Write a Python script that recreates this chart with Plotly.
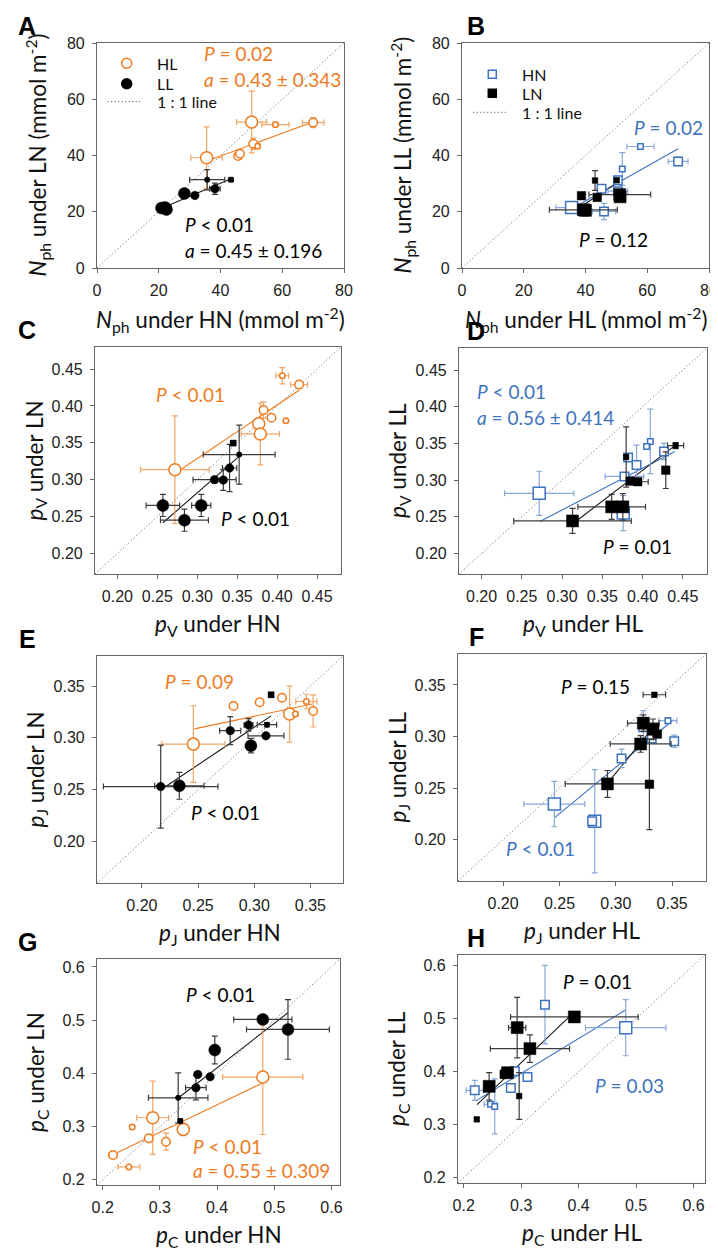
import plotly.graph_objects as go

# each point: (x, y, x error, y error, size class)
A_HL = [(35.5, 39.2, 5.1, 11.0, 'L'), (50.1, 51.9, 4.9, 11.0, 'L'), (57.8, 51.0, 4.4, 0.8, 'S'),
        (70.0, 51.7, 3.5, 1.8, 'M'), (50.6, 44.2, 1.0, 2.0, 'M'), (52.0, 43.3, 0.8, 0.8, 'S'),
        (45.7, 39.8, 1.0, 1.0, 'M'), (46.3, 40.6, 0.8, 0.8, 'M')]
A_LL = [(35.7, 31.4, 5.7, 3.6, 'S'), (43.4, 31.4, 0.6, 0.6, 'S'), (38.2, 28.2, 1.7, 2.0, 'M'),
        (28.3, 26.5, 1.0, 1.0, 'L'), (31.7, 25.8, 0.8, 0.8, 'M'), (22.0, 21.5, 2.0, 1.0, 'L'),
        (20.9, 21.3, 1.0, 0.8, 'L'), (22.5, 20.8, 1.0, 0.8, 'L')]
B_HN = [(57.8, 43.2, 4.4, 0.8, 'S'), (70.0, 37.9, 3.2, 1.5, 'M'), (51.9, 35.2, 0.8, 5.8, 'S'),
        (50.5, 31.2, 0.8, 0.8, 'M'), (45.2, 28.2, 1.0, 1.0, 'M'), (50.5, 27.3, 3.2, 1.0, 'M'),
        (35.5, 21.5, 5.1, 1.0, 'L'), (46.0, 20.1, 3.8, 2.9, 'M')]
B_LN = [(43.1, 31.1, 0.6, 3.5, 'S'), (50.1, 31.2, 0.6, 0.6, 'S'), (38.7, 25.7, 0.8, 0.8, 'M'),
        (43.8, 25.1, 0.8, 0.8, 'M'), (51.1, 26.1, 10.0, 1.0, 'L'), (39.3, 20.7, 11.0, 1.0, 'L'),
        (40.0, 20.5, 1.0, 2.0, 'L'), (51.2, 25.3, 1.0, 1.0, 'L')]
C_HL = [(0.4065, 0.441, 0.008, 0.011, 'S'), (0.4275, 0.429, 0.0105, 0.005, 'M'),
        (0.383, 0.3946, 0.004, 0.011, 'M'), (0.393, 0.384, 0.003, 0.003, 'M'),
        (0.411, 0.380, 0.002, 0.002, 'S'), (0.377, 0.376, 0.003, 0.003, 'L'),
        (0.379, 0.362, 0.024, 0.042, 'L'), (0.272, 0.3135, 0.043, 0.073, 'L')]
C_LL = [(0.345, 0.3496, 0.003, 0.003, 'sq'), (0.3525, 0.334, 0.045, 0.04, 'S'),
        (0.3405, 0.3158, 0.009, 0.032, 'M'), (0.3217, 0.300, 0.027, 0.004, 'M'),
        (0.3326, 0.2996, 0.004, 0.014, 'M'), (0.257, 0.265, 0.021, 0.015, 'L'),
        (0.305, 0.265, 0.012, 0.015, 'L'), (0.284, 0.245, 0.030, 0.015, 'L')]
D_HN = [(0.4096, 0.3527, 0.003, 0.044, 'S'), (0.405, 0.3456, 0.003, 0.003, 'S'),
        (0.4266, 0.339, 0.004, 0.011, 'M'), (0.382, 0.3306, 0.003, 0.003, 'M'),
        (0.3925, 0.3206, 0.003, 0.027, 'M'), (0.3775, 0.305, 0.024, 0.004, 'M'),
        (0.376, 0.255, 0.003, 0.024, 'L'), (0.2716, 0.282, 0.043, 0.030, 'L')]
D_LN = [(0.441, 0.347, 0.010, 0.004, 'S'), (0.3796, 0.3315, 0.002, 0.041, 'S'),
        (0.4288, 0.3135, 0.003, 0.025, 'M'), (0.3846, 0.2986, 0.003, 0.003, 'M'),
        (0.394, 0.2977, 0.013, 0.004, 'M'), (0.3616, 0.2635, 0.042, 0.017, 'L'),
        (0.3755, 0.2635, 0.003, 0.018, 'L'), (0.313, 0.2443, 0.073, 0.017, 'L')]
E_HL = [(0.2815, 0.3308, 0.003, 0.002, 'M'), (0.3048, 0.3343, 0.002, 0.002, 'M'),
        (0.3247, 0.3387, 0.002, 0.002, 'M'), (0.3464, 0.3351, 0.0094, 0.007, 'S'),
        (0.3524, 0.326, 0.003, 0.0155, 'M'), (0.3315, 0.323, 0.003, 0.027, 'L'),
        (0.3366, 0.323, 0.002, 0.002, 'S'), (0.2458, 0.294, 0.028, 0.037, 'L')]
E_LL = [(0.315, 0.3416, 0.002, 0.002, 'sq'), (0.2786, 0.307, 0.0094, 0.0135, 'M'),
        (0.2949, 0.3125, 0.004, 0.006, 'M'), (0.3113, 0.3127, 0.0086, 0.002, 'S'),
        (0.3104, 0.302, 0.016, 0.002, 'M'), (0.297, 0.2925, 0.003, 0.007, 'L'),
        (0.2167, 0.253, 0.051, 0.040, 'M'), (0.2333, 0.2538, 0.022, 0.013, 'L')]
F_HN = [(0.3462, 0.3154, 0.008, 0.003, 'S'), (0.3244, 0.3091, 0.003, 0.016, 'M'),
        (0.3319, 0.298, 0.003, 0.003, 'M'), (0.3518, 0.2954, 0.003, 0.006, 'M'),
        (0.3051, 0.2788, 0.003, 0.009, 'M'), (0.2455, 0.2346, 0.027, 0.022, 'L'),
        (0.2813, 0.2179, 0.003, 0.050, 'L'), (0.279, 0.2179, 0.002, 0.002, 'M')]
F_LL = [(0.3342, 0.3405, 0.010, 0.002, 'S'), (0.3244, 0.313, 0.014, 0.008, 'L'),
        (0.333, 0.307, 0.003, 0.010, 'L'), (0.3369, 0.3024, 0.002, 0.002, 'M'),
        (0.322, 0.2928, 0.027, 0.008, 'L'), (0.2926, 0.2541, 0.0375, 0.013, 'L'),
        (0.3298, 0.2538, 0.003, 0.044, 'M'), (0.3255, 0.3115, 0.003, 0.003, 'M')]
G_HL = [(0.48, 0.393, 0.07, 0.108, 'L'), (0.2875, 0.3165, 0.028, 0.069, 'L'),
        (0.3409, 0.2946, 0.004, 0.012, 'L'), (0.2516, 0.299, 0.002, 0.002, 'S'),
        (0.2805, 0.2777, 0.004, 0.004, 'M'), (0.3107, 0.2714, 0.003, 0.016, 'M'),
        (0.218, 0.2464, 0.007, 0.004, 'M'), (0.2457, 0.2239, 0.019, 0.002, 'S')]
G_LL = [(0.48, 0.5013, 0.051, 0.004, 'L'), (0.524, 0.4825, 0.0725, 0.056, 'L'),
        (0.396, 0.4438, 0.004, 0.026, 'L'), (0.3663, 0.398, 0.004, 0.004, 'M'),
        (0.3878, 0.3936, 0.004, 0.004, 'M'), (0.363, 0.373, 0.018, 0.023, 'M'),
        (0.332, 0.354, 0.052, 0.047, 'S'), (0.3357, 0.3103, 0.003, 0.004, 'S')]
H_HN = [(0.3414, 0.5264, 0.003, 0.074, 'M'), (0.482, 0.483, 0.070, 0.053, 'L'),
        (0.289, 0.4006, 0.003, 0.003, 'M'), (0.311, 0.39, 0.003, 0.006, 'M'),
        (0.282, 0.3692, 0.003, 0.008, 'M'), (0.2192, 0.3647, 0.015, 0.019, 'M'),
        (0.2466, 0.3383, 0.011, 0.003, 'S'), (0.254, 0.3345, 0.003, 0.052, 'S')]
H_LN = [(0.3925, 0.5032, 0.111, 0.004, 'L'), (0.293, 0.483, 0.015, 0.057, 'L'),
        (0.3152, 0.4434, 0.069, 0.026, 'L'), (0.2762, 0.398, 0.003, 0.004, 'L'),
        (0.2704, 0.395, 0.003, 0.003, 'M'), (0.2442, 0.3723, 0.003, 0.026, 'L'),
        (0.2965, 0.354, 0.003, 0.044, 'S'), (0.2227, 0.31, 0.003, 0.003, 'S')]

# fitted lines: ([x0, x1], [y0, y1])
A_FIT = {'c': ([36.0, 70.2], [38.2, 52.0]), 'k': ([19.8, 43.6], [20.7, 31.8])}
B_FIT = {'c': ([36.0, 70.0], [21.3, 42.4]), 'k': ([36.0, 51.1], [20.1, 30.8])}
C_FIT = {'c': ([0.279, 0.428], [0.3135, 0.4216]), 'k': ([0.257, 0.356], [0.2415, 0.3349])}
D_FIT = {'c': ([0.2725, 0.44], [0.2436, 0.339]), 'k': ([0.317, 0.441], [0.2436, 0.3476])}
E_FIT = {'c': ([0.2467, 0.3515], [0.3087, 0.3327]), 'k': ([0.2205, 0.315], [0.2526, 0.3212])}
F_FIT = {'c': ([0.2455, 0.3512], [0.2212, 0.3163]), 'k': ([0.2938, 0.3348], [0.2564, 0.311])}
G_FIT = {'c': ([0.2169, 0.48], [0.2464, 0.382]), 'k': ([0.3327, 0.524], [0.354, 0.514])}
H_FIT = {'c': ([0.2222, 0.481], [0.3458, 0.5157]), 'k': ([0.2232, 0.3908], [0.3377, 0.5108])}

TICKS_N = [0, 20, 40, 60, 80]
TICKS_V = [0.20, 0.25, 0.30, 0.35, 0.40, 0.45]
TICKS_J = [0.20, 0.25, 0.30, 0.35]
TICKS_C = [0.2, 0.3, 0.4, 0.5, 0.6]

# the page body adds an 8px margin, so the figure is drawn 8px smaller and
# all pixel positions below (taken from the 718x1250 picture) are shifted by it
OFF = 8
W, H = 718 - OFF, 1250 - OFF
ORANGE, ORANGE_E = '#EF7B1F', '#F3A566'
BLUE, BLUE_E = '#3E73C0', '#88A9D8'
BLACK, BLACK_E = '#000000', '#3c3c3c'
DOTS = '1px,2.5px'
SIZE = {'S': 5.5, 'M': 8.5, 'L': 12, 'sq': 6}
TXT = 'Lato'
NUM = 'Liberation Sans'


def px(v):
    return (v - OFF) / W


def py(v):
    return 1 - (v - OFF) / H


def nph(s):
    return '<i>N</i><sub>ph</sub> under %s (mmol m<sup>-2</sup>)' % s


def pp(v, s):
    return '<i>p</i><sub>%s</sub> under %s' % (v, s)


# panel: letter, frame (left, top, right, bottom px), range, ticks, fmt,
# series, fits, x title, y title, texts
panels = [
    dict(k='A', fr=(97, 43, 344, 268), rg=[0, 80], tk=TICKS_N, fmt='d',
         s=[('HL', A_HL, 'o'), ('LL', A_LL, 'k')], fit=A_FIT, xt=nph('HN'), yt=nph('LN'),
         txt=[(34.0, 76.1, '<i>P</i> = 0.02', ORANGE), (34.0, 67.1, '<i>a</i> = 0.43 ± 0.343', ORANGE),
              (27.8, 15.4, '<i>P</i> < 0.01', BLACK), (27.8, 6.4, '<i>a</i> = 0.45 ± 0.196', BLACK)]),
    dict(k='B', fr=(462, 43, 709, 268), rg=[0, 80], tk=TICKS_N, fmt='d',
         s=[('HN', B_HN, 'b'), ('LN', B_LN, 'k')], fit=B_FIT, xt=nph('HL'), yt=nph('LL'),
         txt=[(54.9, 49.9, '<i>P</i> = 0.02', BLUE), (37.1, 10.0, '<i>P</i> = 0.12', BLACK)]),
    dict(k='C', fr=(95, 347, 341, 574), rg=[0.172, 0.48], tk=TICKS_V, fmt='.2f',
         s=[('HL', C_HL, 'o'), ('LL', C_LL, 'k')], fit=C_FIT, xt=pp('V', 'HN'), yt=pp('V', 'LN'),
         txt=[(0.2456, 0.415, '<i>P</i> < 0.01', ORANGE), (0.3275, 0.247, '<i>P</i> < 0.01', BLACK)]),
    dict(k='D', fr=(459, 348, 707, 574), rg=[0.172, 0.48], tk=TICKS_V, fmt='.2f',
         s=[('HN', D_HN, 'b'), ('LN', D_LN, 'k')], fit=D_FIT, xt=pp('V', 'HL'), yt=pp('V', 'LL'),
         txt=[(0.192, 0.4207, '<i>P</i> < 0.01', BLUE), (0.192, 0.3847, '<i>a</i> = 0.56 ± 0.414', BLUE),
              (0.3484, 0.2095, '<i>P</i> = 0.01', BLACK)]),
    dict(k='E', fr=(97, 656, 343, 883), rg=[0.16, 0.379], tk=TICKS_J, fmt='.2f',
         s=[('HL', E_HL, 'o'), ('LL', E_LL, 'k')], fit=E_FIT, xt=pp('J', 'HN'), yt=pp('J', 'LN'),
         txt=[(0.2188, 0.3541, '<i>P</i> = 0.09', ORANGE), (0.242, 0.2279, '<i>P</i> < 0.01', BLACK)]),
    dict(k='F', fr=(458, 654, 706, 881), rg=[0.16, 0.38], tk=TICKS_J, fmt='.2f',
         s=[('HN', F_HN, 'b'), ('LN', F_LL, 'k')], fit=F_FIT, xt=pp('J', 'HL'), yt=pp('J', 'LL'),
         txt=[(0.25, 0.3484, '<i>P</i> = 0.15', BLACK), (0.2009, 0.1913, '<i>P</i> < 0.01', BLUE)]),
    dict(k='G', fr=(97, 959, 340, 1185), rg=[0.19, 0.615], tk=TICKS_C, fmt='.1f',
         s=[('HL', G_HL, 'o'), ('LL', G_LL, 'k')], fit=G_FIT, xt=pp('C', 'HN'), yt=pp('C', 'LN'),
         txt=[(0.3426, 0.5483, '<i>P</i> < 0.01', BLACK), (0.3543, 0.2633, '<i>P</i> < 0.01', ORANGE),
              (0.3543, 0.2164, '<i>a</i> = 0.55 ± 0.309', ORANGE)]),
    dict(k='H', fr=(458, 955, 705, 1183), rg=[0.19, 0.62], tk=TICKS_C, fmt='.1f',
         s=[('HN', H_HN, 'b'), ('LN', H_LN, 'k')], fit=H_FIT, xt=pp('C', 'HL'), yt=pp('C', 'LL'),
         txt=[(0.3693, 0.5704, '<i>P</i> = 0.01', BLACK), (0.4257, 0.3742, '<i>P</i> = 0.03', BLUE)]),
]

STYLE = {
    'o': dict(sym='circle', fill='white', line=ORANGE, err=ORANGE_E),
    'b': dict(sym='square', fill='white', line=BLUE, err=BLUE_E),
    'k': dict(sym=None, fill=BLACK, line=BLACK, err=BLACK_E),
}
FITCOL = {'o': ORANGE, 'b': BLUE}

fig = go.Figure()
annots = []
shapes = []
layout = {}

for i, p in enumerate(panels):
    n = '' if i == 0 else str(i + 1)
    xa, ya = 'x' + n, 'y' + n
    L, T, R, B = p['fr']
    ckind = p['s'][0][2]

    # 1:1 line
    fig.add_trace(go.Scatter(x=p['rg'], y=p['rg'], mode='lines', name='1 : 1 line',
                             line=dict(color='#606060', width=1, dash=DOTS),
                             xaxis=xa, yaxis=ya, showlegend=False))
    # fitted lines
    fx, fy = p['fit']['c']
    fig.add_trace(go.Scatter(x=fx, y=fy, mode='lines', line=dict(color=FITCOL[ckind], width=1.1),
                             xaxis=xa, yaxis=ya, showlegend=False))
    fx, fy = p['fit']['k']
    fig.add_trace(go.Scatter(x=fx, y=fy, mode='lines', line=dict(color='#1a1a1a', width=1.1),
                             xaxis=xa, yaxis=ya, showlegend=False))

    for name, pts, kind in p['s']:
        st = STYLE[kind]
        base = st['sym'] or ('square' if ckind == 'b' else 'circle')
        syms = ['square' if q[4] == 'sq' else base for q in pts]
        fig.add_trace(go.Scatter(
            x=[q[0] for q in pts], y=[q[1] for q in pts], mode='markers', name=name,
            error_x=dict(type='data', array=[q[2] for q in pts], color=st['err'], thickness=1.2, width=3),
            error_y=dict(type='data', array=[q[3] for q in pts], color=st['err'], thickness=1.2, width=3),
            marker=dict(size=[SIZE[q[4]] for q in pts], symbol=syms, color=st['fill'], opacity=1,
                        line=dict(color=st['line'], width=1.5 if st['fill'] == 'white' else 0.5)),
            xaxis=xa, yaxis=ya, showlegend=False))

    ax = dict(range=p['rg'], tickvals=p['tk'], tickformat=p['fmt'],
              showline=True, mirror=True, linecolor='#666666', linewidth=1.2, automargin=False,
              ticks='outside', ticklen=4, tickcolor='#666666', showgrid=False, zeroline=False,
              tickfont=dict(family=NUM, size=16, color='#222222'), ticklabelstandoff=4)
    layout['xaxis' + n] = dict(ax, domain=[px(L), px(R)], anchor=ya)
    layout['yaxis' + n] = dict(ax, domain=[py(B), py(T)], anchor=xa)

    for tx, ty, t, c in p['txt']:
        annots.append(dict(x=tx, y=ty, xref=xa, yref=ya, text=t, showarrow=False,
                           xanchor='left', yanchor='middle', font=dict(family=TXT, size=19, color=c)))
    # axis titles
    annots.append(dict(x=px((L + R) / 2), y=py(B + 51), xref='paper', yref='paper', text=p['xt'],
                       xanchor='center', yanchor='middle', showarrow=False,
                       font=dict(family=TXT, size=22.5, color='#111111')))
    annots.append(dict(x=px(L - 60), y=py((T + B) / 2), xref='paper', yref='paper', text=p['yt'],
                       xanchor='center', yanchor='middle', textangle=-90, showarrow=False,
                       font=dict(family=TXT, size=22.5, color='#111111')))
    # panel letter
    lx = 27 if L < 200 else 476
    annots.append(dict(x=px(lx), y=py(T - 17), xref='paper', yref='paper', text='<b>%s</b>' % p['k'],
                       xanchor='center', yanchor='middle', showarrow=False,
                       font=dict(family=NUM, size=25, color='#000000')))

# legend keys of panels A and B (symbol centre x, text x, row y's)
LEGENDS = [
    (126.7, 155, (63.3, 83.7, 101.7), ('HL', 'LL'), 'circle', ORANGE),
    (492.3, 520, (74.3, 93.3, 112.3), ('HN', 'LN'), 'rect', BLUE),
]
for cx, tx, rows, names, kind, col in LEGENDS:
    r = 5 if kind == 'circle' else 4
    for yy, fill, line in ((rows[0], 'white', col), (rows[1], BLACK, BLACK)):
        shapes.append(dict(type=kind, xref='paper', yref='paper',
                           x0=px(cx - r), x1=px(cx + r), y0=py(yy + r), y1=py(yy - r),
                           fillcolor=fill, line=dict(color=line, width=1.5)))
    shapes.append(dict(type='line', xref='paper', yref='paper', x0=px(cx - 19), x1=px(cx + 16),
                       y0=py(rows[2]), y1=py(rows[2]), line=dict(color='#404040', width=1, dash=DOTS)))
    for yy, t in zip(rows, names + ('1 : 1 line',)):
        annots.append(dict(x=px(tx), y=py(yy), xref='paper', yref='paper', text=t, showarrow=False,
                           xanchor='left', yanchor='middle', font=dict(family=TXT, size=16, color='#111111')))

fig.update_layout(
    width=W, height=H, margin=dict(l=0, r=0, t=0, b=0, autoexpand=False),
    template='none', paper_bgcolor='white', plot_bgcolor='white', showlegend=False,
    annotations=annots, shapes=shapes,
    **layout,
)

fig.write_html('out.html')
